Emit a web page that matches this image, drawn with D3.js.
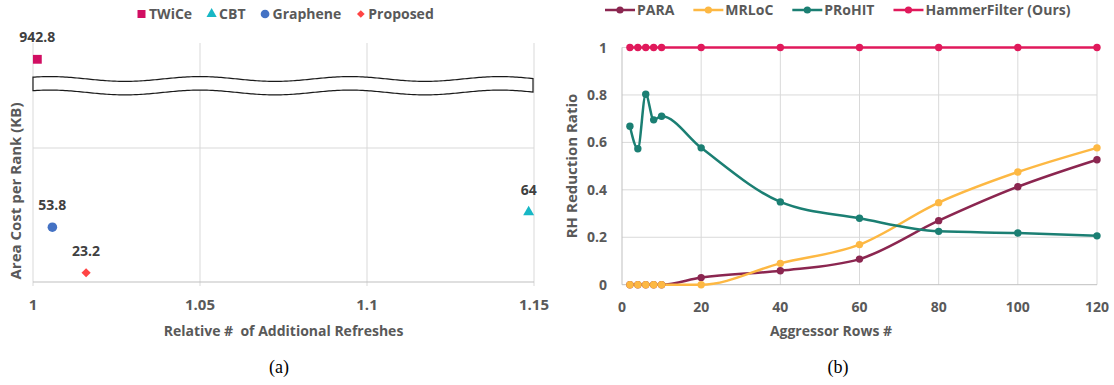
<!DOCTYPE html>
<html><head><meta charset="utf-8">
<script src="https://cdn.jsdelivr.net/npm/d3@7"></script>
<style>
body{margin:0;background:#fff;}
svg{display:block;font-family:"Open Sans",sans-serif;}
</style></head>
<body><svg id="c" width="1114" height="385"></svg>
<script>
// ---- Chart (a) data ----
const schemes = ["TWiCe", "CBT", "Graphene", "Proposed"];
const relRefresh = [1.0013, 1.1484, 1.0058, 1.0159];
const areaKB = [942.8, 64, 53.8, 23.2];
const areaLabels = ["942.8", "64", "53.8", "23.2"];
const xTicksA = [1, 1.05, 1.1, 1.15];
const xTickLabelsA = ["1", "1.05", "1.1", "1.15"];

// ---- Chart (b) data ----
const aggressorRows = [2, 4, 6, 8, 10, 20, 40, 60, 80, 100, 120];
const seriesNames = ["PARA", "MRLoC", "PRoHIT", "HammerFilter (Ours)"];
const para = [0, 0, 0, 0, 0, 0.03, 0.059, 0.108, 0.27, 0.413, 0.527];
const mrloc = [0, 0, 0, 0, 0, 0, 0.09, 0.169, 0.346, 0.475, 0.577];
const prohit = [0.668, 0.573, 0.803, 0.695, 0.71, 0.577, 0.349, 0.28, 0.225, 0.218, 0.206];
const hammer = [1, 1, 1, 1, 1, 1, 1, 1, 1, 1, 1];
const xTicksB = [0, 20, 40, 60, 80, 100, 120];
const yTicksB = [0, 0.2, 0.4, 0.6, 0.8, 1];
const yTickLabelsB = ["0", "0.2", "0.4", "0.6", "0.8", "1"];

const svg = d3.select("#c");
const gridC = "#d9d9d9", axisC = "#bfbfbf", tickTxt = "#595959", lblTxt = "#404040";

// ================= Chart (a) =================
const A = {l: 33, r: 534, t: 43, b: 282};
const xA = d3.scaleLinear().domain([1, 1.15]).range([A.l, A.r]);
const yLow = d3.scaleLinear().domain([17, 107]).range([A.b, 148]);
const yHigh = d3.scaleLinear().domain([800, 1000]).range([100, A.t]);
const yA = v => v > 500 ? yHigh(v) : yLow(v);
const gA = svg.append("g");

gA.selectAll(".vg").data(xTicksA).join("line")
  .attr("x1", d => xA(d)).attr("x2", d => xA(d))
  .attr("y1", A.t).attr("y2", A.b + 4)
  .attr("stroke", gridC).attr("stroke-width", 1);
gA.append("line").attr("x1", A.l).attr("x2", A.r)
  .attr("y1", yLow.range()[1]).attr("y2", yLow.range()[1])
  .attr("stroke", gridC);
gA.append("line").attr("x1", A.l).attr("x2", A.r).attr("y1", A.b).attr("y2", A.b)
  .attr("stroke", axisC);
gA.selectAll(".xt").data(xTicksA).join("text")
  .attr("x", d => xA(d)).attr("y", 310)
  .attr("text-anchor", "middle").attr("font-size", 15).attr("font-weight", 700)
  .attr("fill", tickTxt).text((d, i) => xTickLabelsA[i]);

// axis break (wavy band)
{
  const per = 150, amp = 2.4, phase = 200;
  const top = [], bot = [];
  for (let x = A.l; x <= A.r + 0.01; x += 2) {
    const w = -amp * Math.cos(2 * Math.PI * (x - phase) / per);
    top.push([x, 79 + w]);
    bot.push([x, 92.5 + w]);
  }
  const line = d3.line();
  const p = line(top) + "L" + line(bot.reverse()).slice(1) + "Z";
  gA.append("path").attr("d", p).attr("fill", "#fff").attr("stroke", "#1a1a1a").attr("stroke-width", 1.2);
}

const colorsA = ["#D10E62", "#17B7C5", "#4472C4", "#FF4444"];
const symA = [
  d3.symbol().type(d3.symbolSquare).size(78),
  d3.symbol().type(d3.symbolTriangle).size(52),
  d3.symbol().type(d3.symbolCircle).size(72),
  d3.symbol().type(d3.symbolSquare).size(42)
];
const rotA = [0, 0, 0, 45];
schemes.forEach((s, i) => {
  gA.append("path").attr("d", symA[i]())
    .attr("transform", `translate(${xA(relRefresh[i])},${yA(areaKB[i])}) rotate(${rotA[i]})`)
    .attr("fill", colorsA[i]);
  gA.append("text").attr("x", xA(relRefresh[i])).attr("y", yA(areaKB[i]) - 17)
    .attr("text-anchor", "middle").attr("font-size", 14).attr("font-weight", 700)
    .attr("fill", lblTxt).text(areaLabels[i]);
});
gA.append("text").attr("x", (A.l + A.r) / 2).attr("y", 336)
  .attr("text-anchor", "middle").attr("font-size", 14).attr("font-weight", 700)
  .attr("fill", tickTxt).style("white-space", "pre").text("Relative #  of Additional Refreshes");
gA.append("text").attr("transform", "translate(21,191) rotate(-90)")
  .attr("text-anchor", "middle").attr("font-size", 15).attr("font-weight", 700)
  .attr("fill", tickTxt).text("Area Cost per Rank (KB)");
{
  let x = 137;
  const ly = 14;
  const legSym = [
    d3.symbol().type(d3.symbolSquare).size(64),
    d3.symbol().type(d3.symbolTriangle).size(45),
    d3.symbol().type(d3.symbolCircle).size(60),
    d3.symbol().type(d3.symbolSquare).size(30)
  ];
  schemes.forEach((s, i) => {
    gA.append("path").attr("d", legSym[i]())
      .attr("transform", `translate(${x + 4.5},${ly}) rotate(${rotA[i]})`).attr("fill", colorsA[i]);
    const t = gA.append("text").attr("x", x + 12).attr("y", ly + 5)
      .attr("font-size", 14).attr("font-weight", 700).attr("fill", tickTxt).text(s);
    x += 12 + t.node().getComputedTextLength() + 15;
  });
}
svg.append("text").attr("x", 279).attr("y", 373).attr("text-anchor", "middle")
  .attr("font-family", "Liberation Serif, serif").attr("font-size", 18).attr("fill", "#000").text("(a)");

// ================= Chart (b) =================
const B = {l: 622, r: 1097, t: 47.5, b: 284.7};
const xB = d3.scaleLinear().domain([0, 120]).range([B.l, B.r]);
const yB = d3.scaleLinear().domain([0, 1]).range([B.b, B.t]);
const gB = svg.append("g");
gB.selectAll(".vg").data(xTicksB.slice(1)).join("line")
  .attr("x1", d => xB(d)).attr("x2", d => xB(d)).attr("y1", B.t).attr("y2", B.b)
  .attr("stroke", gridC);
gB.selectAll(".hg").data(yTicksB.slice(1)).join("line")
  .attr("x1", B.l).attr("x2", B.r).attr("y1", d => yB(d)).attr("y2", d => yB(d))
  .attr("stroke", gridC);
gB.append("line").attr("x1", B.l).attr("x2", B.r).attr("y1", B.b).attr("y2", B.b).attr("stroke", axisC);
gB.append("line").attr("x1", B.l).attr("x2", B.l).attr("y1", B.t).attr("y2", B.b).attr("stroke", axisC);
gB.selectAll(".xt").data(xTicksB).join("text")
  .attr("x", d => xB(d)).attr("y", 312).attr("text-anchor", "middle")
  .attr("font-size", 14).attr("font-weight", 700).attr("fill", tickTxt).text(d => d);
gB.selectAll(".yt").data(yTicksB).join("text")
  .attr("x", B.l - 15).attr("y", d => yB(d) + 5).attr("text-anchor", "end")
  .attr("font-size", 14).attr("font-weight", 700).attr("fill", tickTxt).text((d, i) => yTickLabelsB[i]);

const colorsB = ["#8B2650", "#FDB843", "#1B7F73", "#E0195B"];
const dataB = [para, mrloc, prohit, hammer];
const lineB = d3.line().x((d, i) => xB(aggressorRows[i])).y(d => yB(d)).curve(d3.curveMonotoneX);
dataB.forEach((vals, s) => {
  gB.append("path").attr("d", lineB(vals)).attr("fill", "none")
    .attr("stroke", colorsB[s]).attr("stroke-width", 2.5);
});
dataB.forEach((vals, s) => {
  gB.selectAll(".m" + s).data(vals).join("circle")
    .attr("cx", (d, i) => xB(aggressorRows[i])).attr("cy", d => yB(d)).attr("r", 3.7)
    .attr("fill", colorsB[s]);
});
gB.append("text").attr("x", 831).attr("y", 336).attr("text-anchor", "middle")
  .attr("font-size", 14).attr("font-weight", 700).attr("fill", tickTxt).text("Aggressor Rows #");
gB.append("text").attr("transform", "translate(577,166) rotate(-90)")
  .attr("text-anchor", "middle").attr("font-size", 15).attr("font-weight", 700)
  .attr("fill", tickTxt).text("RH Reduction Ratio");
{
  let x = 605;
  const ly = 10;
  seriesNames.forEach((s, i) => {
    gB.append("line").attr("x1", x).attr("x2", x + 30).attr("y1", ly).attr("y2", ly)
      .attr("stroke", colorsB[i]).attr("stroke-width", 2.5);
    gB.append("circle").attr("cx", x + 15).attr("cy", ly).attr("r", 3.6).attr("fill", colorsB[i]);
    const t = gB.append("text").attr("x", x + 32).attr("y", ly + 5)
      .attr("font-size", 14).attr("font-weight", 700).attr("fill", tickTxt).text(s);
    x += 32 + t.node().getComputedTextLength() + 19;
  });
}
svg.append("text").attr("x", 838).attr("y", 373).attr("text-anchor", "middle")
  .attr("font-family", "Liberation Serif, serif").attr("font-size", 18).attr("fill", "#000").text("(b)");
</script></body></html>
